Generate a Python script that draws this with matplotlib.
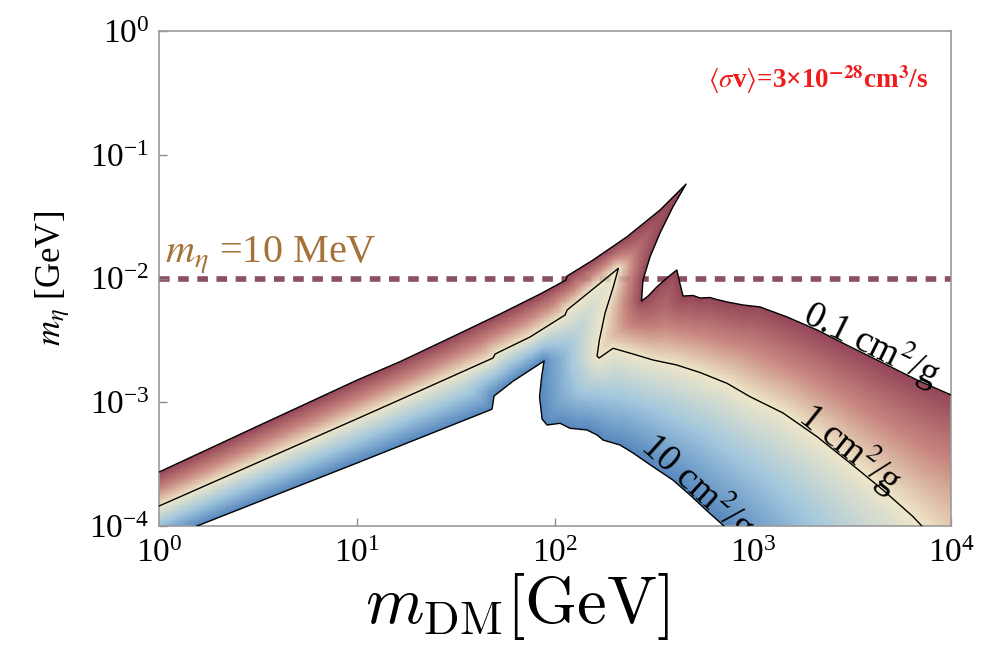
import numpy as np
import matplotlib
matplotlib.use("Agg")
import matplotlib.pyplot as plt
from matplotlib.colors import LinearSegmentedColormap
from matplotlib.patches import Polygon
from matplotlib.path import Path
from matplotlib.ticker import NullLocator, LogLocator

plt.rcParams["font.family"] = ["Liberation Serif", "DejaVu Serif"]
plt.rcParams["mathtext.fontset"] = "stix"

# sigma/m = 0.1 cm^2/g  (upper edge of the allowed band), GeV
upper_mdm = [1.0, 3.16, 10.0, 16.5, 29.5, 52.8, 84.0, 113.6, 115.0, 155.6, 231, 339, 459,
             394, 339, 302, 278, 273.4, 295, 327.5, 372, 412, 423, 443, 498, 540, 606,
             655, 739, 890, 1085, 1485, 2105, 3090, 4535, 6735, 10000]
upper_meta = [2.73e-4, 6.43e-4, 1.51e-3, 2.13e-3, 3.31e-3, 5.17e-3, 7.49e-3, 9.72e-3, 1.047e-2,
              1.411e-2, 2.177e-2, 3.577e-2, 5.80e-2, 3.80e-2, 2.332e-2, 1.50e-2, 9.72e-3,
              6.58e-3, 7.22e-3, 8.59e-3, 1.028e-2, 1.172e-2, 9.72e-3, 7.22e-3, 7.29e-3,
              6.96e-3, 7.02e-3, 6.77e-3, 6.46e-3, 6.11e-3, 5.89e-3, 4.89e-3, 3.84e-3,
              2.81e-3, 2.076e-3, 1.512e-3, 1.145e-3]

# sigma/m = 1 cm^2/g
middle_mdm = [1.0, 10.0, 16.5, 48.6, 49.8, 74.8, 112.3, 115.0, 168.8, 208.8, 197, 178.9,
              167.4, 163, 166.9, 196.3, 247.7, 312.6, 411.8, 540, 739, 965.6, 1417, 2105,
              3090, 4535, 6430, 8303]
middle_meta = [1.45e-4, 7.35e-4, 1.05e-3, 2.278e-3, 2.454e-3, 3.37e-3, 5.07e-3, 5.56e-3,
               9.15e-3, 1.209e-2, 8.59e-3, 5.26e-3, 3.18e-3, 2.364e-3, 2.278e-3, 2.73e-3,
               2.454e-3, 2.195e-3, 2.0e-3, 1.739e-3, 1.422e-3, 1.109e-3, 8.19e-4, 5.27e-4,
               3.23e-4, 1.953e-4, 1.189e-4, 7.7e-5]

# sigma/m = 10 cm^2/g  (lower edge)
lower_mdm = [1.0, 1.556, 10.0, 47.0, 48.1, 49.2, 61.4, 88.0, 85.5, 83.5, 86.0, 91.1, 106,
             119, 145, 163, 174.8, 213, 247.7, 312.6, 394, 480.6, 579, 722, 911]
lower_meta = [7.56e-5, 1.0e-4, 3.23e-4, 8.66e-4, 8.82e-4, 1.123e-3, 1.48e-3, 2.154e-3,
              1.6e-3, 1.103e-3, 7.32e-4, 6.55e-4, 6.76e-4, 6.16e-4, 5.97e-4, 5.44e-4,
              4.95e-4, 4.51e-4, 3.89e-4, 3.01e-4, 2.35e-4, 1.78e-4, 1.347e-4, 9.81e-5, 6.4e-5]

contour_levels = [-1.0, 0.0, 1.0]          # log10(sigma/m) on upper / middle / lower
contour_texts = ["0.1 cm$^2$/g", "1 cm$^2$/g", "10 cm$^2$/g"]
contour_label_x = [3750, 2850, 480]

M_ETA_LINE = 1e-2
XLIM = (1, 1e4)
YLIM = (1e-4, 1)

cmap = LinearSegmentedColormap.from_list(
    "tones", ["#944657", "#c7867f", "#eee6c8", "#a2c7dd", "#5687bd"])


def seg_distance(u, w, xs, ys, xscale):
    lx = np.log10(xs) * xscale
    ly = np.log10(ys)
    d = np.full(u.shape, np.inf)
    for i in range(len(lx) - 1):
        x0, y0 = lx[i], ly[i]
        dx, dy = lx[i + 1] - x0, ly[i + 1] - y0
        L2 = dx * dx + dy * dy
        t = np.clip(((u - x0) * dx + (w - y0) * dy) / L2, 0, 1)
        d = np.minimum(d, np.hypot(u - (x0 + t * dx), w - (y0 + t * dy)))
    return d


def on_curve(xs, ys, x0):
    # walk back from the right end, first segment that spans x0
    for i in range(len(xs) - 1, 0, -1):
        a, b = xs[i - 1], xs[i]
        if min(a, b) <= x0 <= max(a, b):
            f = (np.log10(x0) - np.log10(a)) / (np.log10(b) - np.log10(a))
            return x0, 10 ** (np.log10(ys[i - 1]) + f * (np.log10(ys[i]) - np.log10(ys[i - 1])))
    return x0, ys[-1]


fig = plt.figure(figsize=(9.94, 6.45), dpi=100)
ax = fig.add_axes([0.16, 0.1845, 0.7968, 0.7674])
ax.set_xscale("log")
ax.set_yscale("log")
ax.set_xlim(*XLIM)
ax.set_ylim(*YLIM)

bb = ax.get_window_extent()
xscale = (bb.width / np.log10(XLIM[1] / XLIM[0])) / (bb.height / np.log10(YLIM[1] / YLIM[0]))

# sigma/m field: linear blend between the 0.1/1 lines above the 1 line,
# and between the 1/10 lines below it
nx, ny = 640, 400
ex = np.linspace(0, 4, nx + 1)
ey = np.linspace(-4, 0, ny + 1)
cx = 0.5 * (ex[1:] + ex[:-1])
cy = 0.5 * (ey[1:] + ey[:-1])
U, W = np.meshgrid(cx * xscale, cy)
d_up = seg_distance(U, W, upper_mdm, upper_meta, xscale)
d_mid = seg_distance(U, W, middle_mdm, middle_meta, xscale)
d_low = seg_distance(U, W, lower_mdm, lower_meta, xscale)

above = list(zip(upper_mdm, upper_meta)) + [(XLIM[1], YLIM[0] * 0.3)] + \
    list(zip(middle_mdm, middle_meta))[::-1]
above_path = Path([(np.log10(x) * xscale, np.log10(y)) for x, y in above])
inside = above_path.contains_points(np.column_stack([U.ravel(), W.ravel()])).reshape(U.shape)
lv_up, lv_mid, lv_low = contour_levels
field = np.where(inside,
                 (lv_up * d_mid + lv_mid * d_up) / (d_up + d_mid + 1e-9),
                 (lv_low * d_mid + lv_mid * d_low) / (d_low + d_mid + 1e-9))

ax.axhline(M_ETA_LINE, color="#8c5064", lw=4, dashes=(1.9, 1.55), zorder=1)

region = list(zip(upper_mdm, upper_meta)) + [(XLIM[1], YLIM[0] * 0.3)] + \
    list(zip(lower_mdm, lower_meta))[::-1]
patch = Polygon(region, closed=True, facecolor="none", edgecolor="none",
                transform=ax.transData)
ax.add_patch(patch)
mesh = ax.pcolormesh(10 ** ex, 10 ** ey, field, cmap=cmap, vmin=-1, vmax=1,
                     shading="flat", rasterized=True, zorder=2)
mesh.set_clip_path(patch)

ax.axhline(M_ETA_LINE, color="#8c5064", lw=4, dashes=(1.9, 1.55), alpha=0.18, zorder=3)

curves = [(upper_mdm, upper_meta), (middle_mdm, middle_meta), (lower_mdm, lower_meta)]
for xs, ys in curves:
    ax.plot(xs, ys, color="black", lw=1.0, zorder=4)

for (xs, ys), txt, xl in zip(curves, contour_texts, contour_label_x):
    p0 = ax.transData.transform(on_curve(xs, ys, xl * 0.92))
    p1 = ax.transData.transform(on_curve(xs, ys, xl * 1.08))
    ang = np.degrees(np.arctan2(p1[1] - p0[1], p1[0] - p0[0]))
    xc, yc = on_curve(xs, ys, xl)
    ax.text(xc, yc, txt, fontsize=27, rotation=ang, rotation_mode="anchor",
            ha="center", va="baseline", zorder=5, clip_on=True)

ax.text(0.008, 0.533, r"$m_\eta$ =10 MeV", transform=ax.transAxes, fontsize=29,
        color="#a57239", va="baseline")
ax.text(0.693, 0.885, r"$\langle\sigma$v$\rangle$=3×10$^{\mathbf{-28}}$cm$^{\mathbf{3}}$/s",
        transform=ax.transAxes, fontsize=19.5, color="#ee1c1c", fontweight="bold",
        va="baseline")

ax.xaxis.set_major_locator(LogLocator(base=10, numticks=10))
ax.yaxis.set_major_locator(LogLocator(base=10, numticks=10))
ax.xaxis.set_minor_locator(NullLocator())
ax.yaxis.set_minor_locator(NullLocator())
ax.tick_params(direction="in", length=6, width=1, color="#8c8c8c", labelsize=24)
ax.tick_params(axis="x", pad=9)
ax.tick_params(axis="y", pad=7)
for s in ax.spines.values():
    s.set_color("#9a9a9a")
    s.set_linewidth(1.2)

ax.set_xlabel(r"$m_{\rm DM}[{\rm GeV}]$", fontsize=48, math_fontfamily="cm")
ax.xaxis.set_label_coords(0.452, -0.09)
ax.set_ylabel(r"$m_\eta$ [GeV]", fontsize=25, labelpad=12)

fig.savefig("out.png", dpi=100)
